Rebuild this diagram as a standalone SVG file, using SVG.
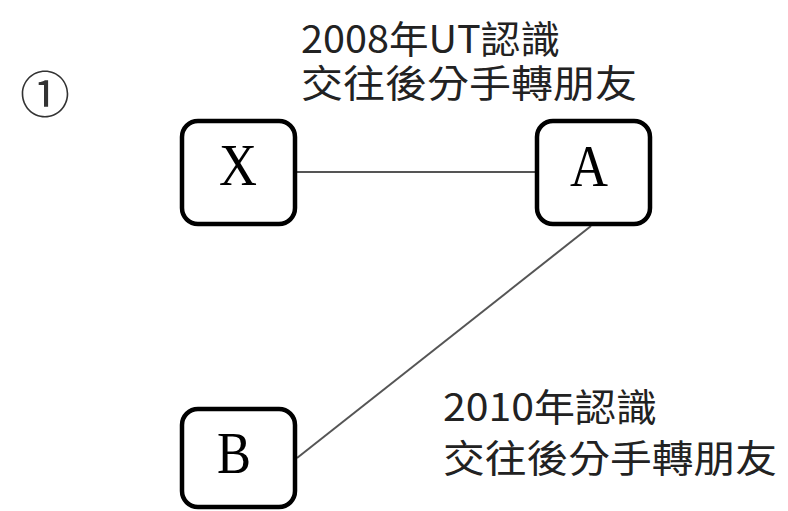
<svg xmlns="http://www.w3.org/2000/svg" width="788" height="511" viewBox="0 0 788 511">
<style>
.box{fill:#fff;stroke:#000;stroke-width:4.5}
.lbl{font-family:"Liberation Serif",serif;font-size:60px;fill:#000}
.cjk{font-family:"Noto Sans CJK TC","Noto Sans CJK SC",sans-serif;font-size:38px;fill:#222}
.edge{stroke:#555;stroke-width:2;fill:none}
</style>
<rect width="788" height="511" fill="#fff"/>
<text x="45" y="113" style="font-family:'DejaVu Serif','Noto Sans CJK TC',serif;font-size:50px;fill:#333" text-anchor="middle">①</text>
<text class="cjk" x="301" y="53" textLength="259" lengthAdjust="spacingAndGlyphs">2008年UT認識</text>
<text class="cjk" x="301" y="97" textLength="336" lengthAdjust="spacingAndGlyphs">交往後分手轉朋友</text>
<text class="cjk" x="443" y="421" textLength="214" lengthAdjust="spacingAndGlyphs">2010年認識</text>
<text class="cjk" x="443" y="472" textLength="334" lengthAdjust="spacingAndGlyphs">交往後分手轉朋友</text>
<g id="connectors">
<line class="edge" x1="297" y1="172" x2="535" y2="172"/>
<line class="edge" x1="591" y1="226" x2="297" y2="458"/>
</g>
<g id="node-X"><rect class="box" x="182" y="121" width="113" height="103" rx="16"/><text class="lbl" x="219" y="185" textLength="38" lengthAdjust="spacingAndGlyphs">X</text></g>
<g id="node-A"><rect class="box" x="537" y="121" width="113" height="103" rx="16"/><text class="lbl" x="570" y="186" textLength="38" lengthAdjust="spacingAndGlyphs">A</text></g>
<g id="node-B"><rect class="box" x="182" y="409" width="113" height="98" rx="16"/><text class="lbl" x="217" y="473" textLength="34" lengthAdjust="spacingAndGlyphs">B</text></g>
</svg>
